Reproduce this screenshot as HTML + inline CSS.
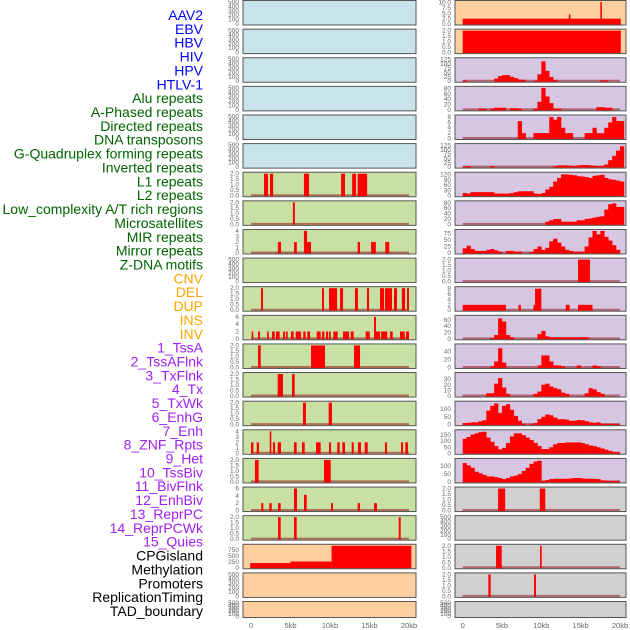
<!DOCTYPE html>
<html><head><meta charset="utf-8"><style>
html,body{margin:0;padding:0;background:#fff;}
svg{display:block;font-family:"Liberation Sans",sans-serif;}
</style></head><body>
<svg id="c" width="630" height="630" viewBox="0 0 630 630" xmlns="http://www.w3.org/2000/svg"></svg>
<script>
const trackLabels=["AAV2","EBV","HBV","HIV","HPV","HTLV-1","Alu repeats","A-Phased repeats","Directed repeats","DNA transposons","G-Quadruplex forming repeats","Inverted repeats","L1 repeats","L2 repeats","Low_complexity A/T rich regions","Microsatellites","MIR repeats","Mirror repeats","Z-DNA motifs","CNV","DEL","DUP","INS","INV","1_TssA","2_TssAFlnk","3_TxFlnk","4_Tx","5_TxWk","6_EnhG","7_Enh","8_ZNF_Rpts","9_Het","10_TssBiv","11_BivFlnk","12_EnhBiv","13_ReprPC","14_ReprPCWk","15_Quies","CPGisland","Methylation","Promoters","ReplicationTiming","TAD_boundary"];
const labelGroups=[6,13,5,15,5];
const groupColors=["#0000ff","#006400","#ffa500","#a020f0","#000000"];
const xTickLabels=["0","5kb","10kb","15kb","20kb"];
const xTickValues=[0,5,10,15,20];

const T500=[0,100,200,300,400,500], T2=[0,0.5,1,1.5,2];
const leftBg=["#c9e3eb","#c9e3eb","#c9e3eb","#c9e3eb","#c9e3eb","#c9e3eb","#c8e0a4","#c8e0a4","#c8e0a4","#c8e0a4","#c8e0a4","#c8e0a4","#c8e0a4","#c8e0a4","#c8e0a4","#c8e0a4","#c8e0a4","#c8e0a4","#c8e0a4","#ffd09f","#ffd09f","#ffd09f"];
const rightBg=["#ffd09f","#ffd09f","#d6c6e1","#d6c6e1","#d6c6e1","#d6c6e1","#d6c6e1","#d6c6e1","#d6c6e1","#d6c6e1","#d6c6e1","#d6c6e1","#d6c6e1","#d6c6e1","#d6c6e1","#d6c6e1","#d6c6e1","#d0d0d0","#d0d0d0","#d0d0d0","#d0d0d0","#d0d0d0"];
const leftTicks=[T500,T500,T500,T500,T500,T500,T2,T2,[0,1,2,3,4],T500,T2,[0,2,4,6],T2,T2,T2,[0,1,2,3,4],T2,[0,2,4,6],T2,[0,250,500,750],T500,T500];
const leftMax=[500,500,500,500,500,500,2,2,4,500,2,6,2,2,2,4,2,6,2,930,500,500];
const leftSegs=[[],[],[],[],[],[],
[[1.65,2.15,2],[2.4,2.8,2],[6.7,7.35,2],[11.4,11.9,2],[12.8,13.3,2],[13.5,14.7,2]],
[[5.3,5.55,2]],
[[3.4,3.8,2],[5.45,5.8,2],[6.7,7.1,4],[7.1,7.6,2],[13.5,13.8,2],[15.2,15.8,2],[17,17.5,2]],
[],
[[1.27,1.52,2],[8.99,9.24,2],[9.87,10.9,2],[11.27,11.65,2],[13.16,13.54,2],[14.68,14.94,2],[16.33,16.84,2],[16.96,17.85,2],[18.1,18.48,2],[19.1,19.5,2],[19.75,20,2]],
[[0.09,0.29,2],[0.89,1.14,2],[2.03,2.24,2],[2.66,3.0,2],[3.16,3.63,2],[4.05,4.3,2],[4.43,4.65,2],[5.06,5.4,2],[5.66,6.33,2],[6.62,6.92,2],[7.13,7.47,2],[8.32,8.82,2],[8.99,9.28,2],[9.49,9.75,2],[9.87,10.09,2],[10.42,10.97,2],[11.65,12.41,2],[12.62,13.0,2],[14.52,15.03,2],[15.57,15.82,6],[15.82,16.33,2],[16.46,17.25,2],[17.59,17.94,2],[18.86,19.46,2],[19.62,20.0,2]],
[[0.89,1.23,2],[7.6,9.37,2],[13.04,13.8,2]],
[[3.38,4.05,2],[5.19,5.53,2]],
[[6.58,6.96,2],[9.83,10.25,2]],
[[0,0.3,2],[0.72,1.01,2],[2.37,2.57,4],[2.78,3.04,2],[3.38,3.8,2],[5.44,5.78,2],[6.46,6.8,2],[8.23,8.82,2],[9.87,10.13,2],[10.92,11.23,2],[11.56,11.9,2],[12.75,13.0,2],[13.54,13.92,2],[14.39,14.77,2],[16.96,17.22,2],[18.99,19.24,2],[19.53,19.87,2]],
[[0.5,0.97,2],[9.24,10.09,2]],
[[1.3,1.56,2],[2.32,2.62,2],[3.42,3.76,2],[5.44,5.82,6],[6.71,7.05,4.3],[10.13,10.38,2],[13.5,13.8,2],[15.57,15.95,2]],
[[3.42,3.76,2],[5.44,5.78,2],[18.7,18.95,2]],
[[-0.1,5,200],[5,10.2,265],[10.2,20.3,930]],
[],[]];

const rightTicks=[[0,2.5,5,7.5,10],T2,[0,25,50,75,100,125],[0,20,40,60,80],[0,2,4,6,8],[0,25,50,75,100,125],[0,30,60,90,120],[0,20,40,60,80],[0,25,50,75],T2,[0,2,4,6,8],[0,20,40,60],[0,20,40],[0,10,20,30],[0,50,100],[0,50,100,150],[0,50,100],T2,T500,T2,T2,T500];
const rightMax=[10.3,2,127,82,8.2,127,124,82,85,2,8.2,70,55,39,140,182,140,2,500,2,2,500];
const rightSegs=[[[0,20.1,2.5],[13.5,13.7,4.5],[17.5,17.7,10.3]],[[0,20.1,2]],[],[],[],[],[],[],[],
[[14.66,16.19,2]],
[[0,5.5,2],[7.1,7.4,2],[9.0,9.2,2],[9.2,10.0,8],[13.1,13.6,2],[14.66,16.5,2]],
[],[],[],[],[],[],
[[4.5,5.4,2],[9.8,10.5,2]],[],
[[4.24,4.96,2],[9.83,10.04,2]],
[[3.26,3.56,2],[9.07,9.32,2]],[]];
const rightBins={
2:[5,0,0,0,0,0,0,0,15,30,35,35,25,18,10,8,0,0,3,40,115,60,25,8,0,0,0,0,0,0,0,0,0,0,0,5,5,0,0,0,0],
3:[0,0,0,0,5,5,0,5,8,8,8,0,6,6,5,0,0,0,5,30,82,50,25,5,5,0,0,0,0,0,0,0,0,0,10,10,8,8,0,0,0],
4:[0,0,0,0,0,0,0,0,0,0,0,0,0,0,6.5,2,0,0,2,2,2,2,8,7,8,4,2,2,0,0,0,2,2,4,2,2,4,6,8,6.5,6.5],
5:[3,5,0,0,0,0,0,5,0,0,0,0,0,0,0,0,0,0,0,0,0,0,0,5,10,10,10,8,6,10,12,12,10,8,6,5,15,40,65,95,120],
6:[15,12,20,20,20,20,20,20,12,12,12,12,15,20,25,25,25,25,12,10,15,35,50,80,100,120,120,118,115,110,108,105,100,112,115,118,100,92,90,85,80],
7:[0,0,0,0,0,0,0,0,0,0,0,0,0,0,0,0,0,0,0,0,0,10,15,20,20,10,10,10,10,15,15,20,22,25,28,30,55,75,78,65,65],
8:[18,28,15,8,8,8,12,15,10,5,0,8,8,5,5,0,0,3,15,25,12,20,45,55,40,25,12,8,5,5,5,25,60,85,72,85,62,48,30,12,0],
11:[0,0,0,0,0,0,0,2,12,65,55,12,5,0,0,0,0,0,0,15,25,8,5,5,5,5,5,5,5,5,5,5,0,0,0,0,0,0,0,0,0],
12:[0,0,0,0,0,0,0,3,15,48,12,0,0,0,0,0,0,0,0,5,30,30,15,5,5,3,0,0,0,5,0,0,0,5,3,0,0,0,0,0,0],
13:[0,0,0,0,0,0,5,5,22,32,15,4,0,0,0,0,0,0,4,8,20,22,17,14,12,6,4,0,0,0,0,5,14,12,7,4,0,0,0,0,0],
14:[10,12,15,15,22,28,90,120,135,75,120,130,95,55,25,5,0,3,10,35,50,65,60,45,35,35,32,25,25,30,28,22,15,12,15,5,5,5,5,3,0],
15:[120,135,155,165,175,178,130,95,60,32,45,85,140,165,165,150,130,110,85,60,35,35,50,75,85,85,90,90,90,90,85,75,65,60,50,40,30,20,10,8,0],
16:[120,105,90,65,55,45,35,35,30,25,18,25,35,40,50,70,90,115,130,135,5,12,18,20,20,20,20,22,25,25,22,20,20,20,18,10,8,5,5,5,0]};
const binWidth=0.5;

const NS="http://www.w3.org/2000/svg";
const svg=document.getElementById('c');
function mk(tag,attrs,parent){const e=document.createElementNS(NS,tag);for(const k in attrs)e.setAttribute(k,attrs[k]);(parent||svg).appendChild(e);return e;}
const cols=[{x0:243,x1:416,z:251,px:7.9,bg:leftBg,ticks:leftTicks,max:leftMax,segs:leftSegs,bins:{},name:'left'},
{x0:455,x1:626,z:462.7,px:7.865,bg:rightBg,ticks:rightTicks,max:rightMax,segs:rightSegs,bins:rightBins,name:'right'}];
function rowTop(i){return 0.5+i*28.62;}
function rowH(i){return i===21?16:24.5;}
cols.forEach(c=>{
  const xs=v=>c.z+v*c.px;
  for(let i=0;i<22;i++){
    const top=rowTop(i),h=rowH(i),bot=top+h;
    const g=mk('g',{});
    
    
    const bg=mk('rect',{x:c.x0,y:top,width:c.x1-c.x0,height:h,fill:c.bg[i]},g);
    
    
    const ymax=c.max[i];
    const ys=v=>bot-1-(Math.min(v,ymax)/ymax)*(h-2.5);
    const hasData=c.segs[i].length>0||c.bins[i];
    if(hasData&&!(c.name==='right'&&i<2)&&!(c.name==='left'&&i===19)){
      const bl=mk('line',{x1:xs(0),x2:xs(20),y1:bot-1.5,y2:bot-1.5,stroke:'rgba(150,20,20,0.55)','stroke-width':2},g);
      
      
    }
    c.segs[i].forEach(s=>{
      const r=mk('rect',{x:xs(s[0]),y:ys(s[2]),width:Math.max(1,xs(s[1])-xs(s[0])),height:bot-1-ys(s[2])+0.5,fill:'#ff0000'},g);
      
      
    });
    if(c.bins[i]){
      c.bins[i].forEach((v,k)=>{
        if(v<=0)return;
        const r=mk('rect',{x:xs(k*binWidth),y:ys(v),width:binWidth*c.px+0.3,height:bot-1-ys(v)+0.5,fill:'#ff0000'},g);
        
        
      });
    }
    const fr=mk('rect',{x:c.x0,y:top,width:c.x1-c.x0,height:h,fill:'none',stroke:'#555','stroke-width':1},g);
    
    
    c.ticks[i].forEach(t=>{
      const tx=mk('text',{x:c.x0-4,y:ys(t)+2,'text-anchor':'end','font-size':6.5,fill:'#666'},g);
      tx.textContent=(c.ticks[i]===T2||c.ticks[i][1]===2.5)?t.toFixed(1):String(t);
      
      
    });
  }
  xTickValues.forEach((v,k)=>{
    const tx=mk('text',{x:xs(v),y:628,'text-anchor':'middle','font-size':7.5,fill:'#666'});
    tx.textContent=xTickLabels[k];
    
    
  });
});
let idx=0;
labelGroups.forEach((n,gi)=>{
  for(let j=0;j<n;j++){
    const tx=mk('text',{x:203,y:20+idx*13.86,'text-anchor':'end','font-size':14,fill:groupColors[gi]});
    tx.textContent=trackLabels[idx];
    
    
    idx++;
  }
});
</script>
</body></html>
